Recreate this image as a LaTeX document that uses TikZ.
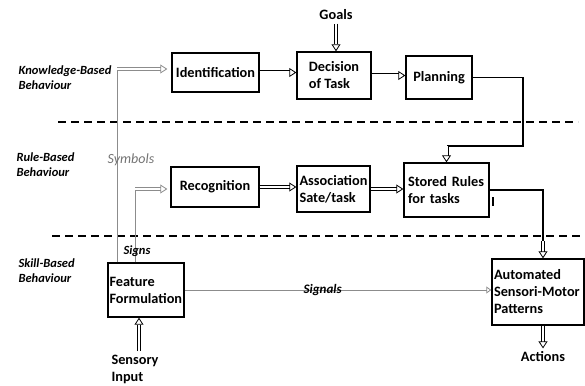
\documentclass[tikz,border=0pt]{standalone}
\usepackage{fontspec}
\setmainfont{Carlito}
\usetikzlibrary{arrows.meta, positioning, calc}

\begin{document}
\begin{tikzpicture}[
  x=1pt, y=-1pt,
  font=\fontsize{14.3}{17}\selectfont\bfseries,
  procbox/.style={
    rectangle, draw=black, line width=1.4pt, fill=white,
    align=left, inner sep=2pt
  },
  blockarrow/.style={
    double=white, double distance=2.4pt, line width=0.8pt,
    -{Triangle[open, length=7pt, width=9pt]}
  },
  greyarrow/.style={blockarrow, draw=black!45},
  greyline/.style={draw=black!45, line width=0.8pt},
  flowline/.style={line width=1.2pt},
  levelsep/.style={line width=1.8pt, dash pattern=on 8pt off 5pt},
  levellabel/.style={
    font=\fontsize{12.5}{15}\selectfont\bfseries\itshape,
    align=left, anchor=west
  },
]
\useasboundingbox (0,0) rectangle (585,385);

% Level separators
\draw[levelsep] (58,122) -- (578,122);
\draw[levelsep] (52,236) -- (585,236);

% Level labels
\node[levellabel] (kbb) at (15,78) {Knowledge-Based\\Behaviour};
\node[levellabel] (rbb) at (13,165) {Rule-Based\\Behaviour};
\node[levellabel] (sbb) at (15,271) {Skill-Based\\Behaviour};

% Knowledge-based row
\node[procbox, minimum width=87pt, minimum height=39pt] (ident) at (215.5,72.5) {Identification};
\node[procbox, minimum width=74pt, minimum height=47pt] (decision) at (334,75.5) {Decision\\of Task};
\node[procbox, minimum width=66pt, minimum height=43pt] (planning) at (439,77.5) {Planning};
\node (goals) at (336,15) {Goals};

% Rule-based row
\node[procbox, minimum width=88pt, minimum height=40pt] (recog) at (215,187) {Recognition};
\node[procbox, minimum width=73pt, minimum height=46pt, inner sep=1pt] (assoc) at (333.5,189) {Association\\Sate/task};
\node[procbox, minimum width=85pt, minimum height=54pt, text width=77pt] (stored) at (446.5,190) {Stored Rules\\for tasks};

% Skill-based row
\node[procbox, minimum width=76pt, minimum height=54pt, inner sep=1pt, text width=73pt] (feature) at (146,290) {Feature\\Formulation};
\node[procbox, minimum width=92pt, minimum height=66pt, text width=88pt] (auto) at (538,292) {Automated\\Sensori-Motor\\Patterns};
\node (actions) at (543,357) {Actions};
\node[align=left] (sensory) at (135,369) {Sensory\\Input};

% Forward arrows
\draw[blockarrow] (ident.east) -- (ident.east -| decision.west);
\draw[blockarrow] (decision.east) -- (decision.east -| planning.west);
\draw[blockarrow] (recog.east) -- (recog.east -| assoc.west);
\draw[blockarrow] (assoc.east) -- (assoc.east -| stored.west);
\draw[blockarrow] (goals.south) -- (goals.south |- decision.north);

% Planning down to stored rules
\coordinate (planturn) at (523,146);
\draw[flowline] (planning.east) -| (planturn) -- (planturn -| stored.north);
\draw[blockarrow] (planturn -| stored.north) -- (stored.north);

% Stored rules down to motor patterns
\coordinate (ruleturn) at (543,241);
\draw[flowline] (stored.east) -| (ruleturn);
\draw[blockarrow] (ruleturn) -- (ruleturn |- auto.north);
\draw[blockarrow] (ruleturn |- auto.south) -- (actions.north);
\draw[line width=1.3pt] (493,197) -- (493,206);

% Sensory input
\draw[blockarrow] ([xshift=4pt]sensory.north) -- ([xshift=4pt]sensory.north |- feature.south);

% Symbols and signs
\coordinate (symbturn) at (117,69);
\draw[greyline] (symbturn |- feature.north) -- (symbturn);
\draw[greyarrow] (symbturn) -- ([xshift=-4pt]symbturn -| ident.west);
\coordinate (signturn) at (135,189);
\draw[greyline] (signturn |- feature.north) -- (signturn);
\draw[greyarrow] (signturn) -- ([xshift=-3pt]signturn -| recog.west);
\node[font=\fontsize{14}{16}\selectfont\itshape, text=black!55] (symbols) at (131,160) {Symbols};
\node[font=\fontsize{12.5}{15}\selectfont\bfseries\itshape] (signs) at (137,251) {Signs};

% Signals
\draw[greyline, -{Triangle[open, length=5pt, width=7pt]}] (feature.east) -- (feature.east -| auto.west)
  node[pos=0.45, font=\fontsize{13}{15}\selectfont\bfseries\itshape, text=black] (signals) {Signals};

\end{tikzpicture}
\end{document}
